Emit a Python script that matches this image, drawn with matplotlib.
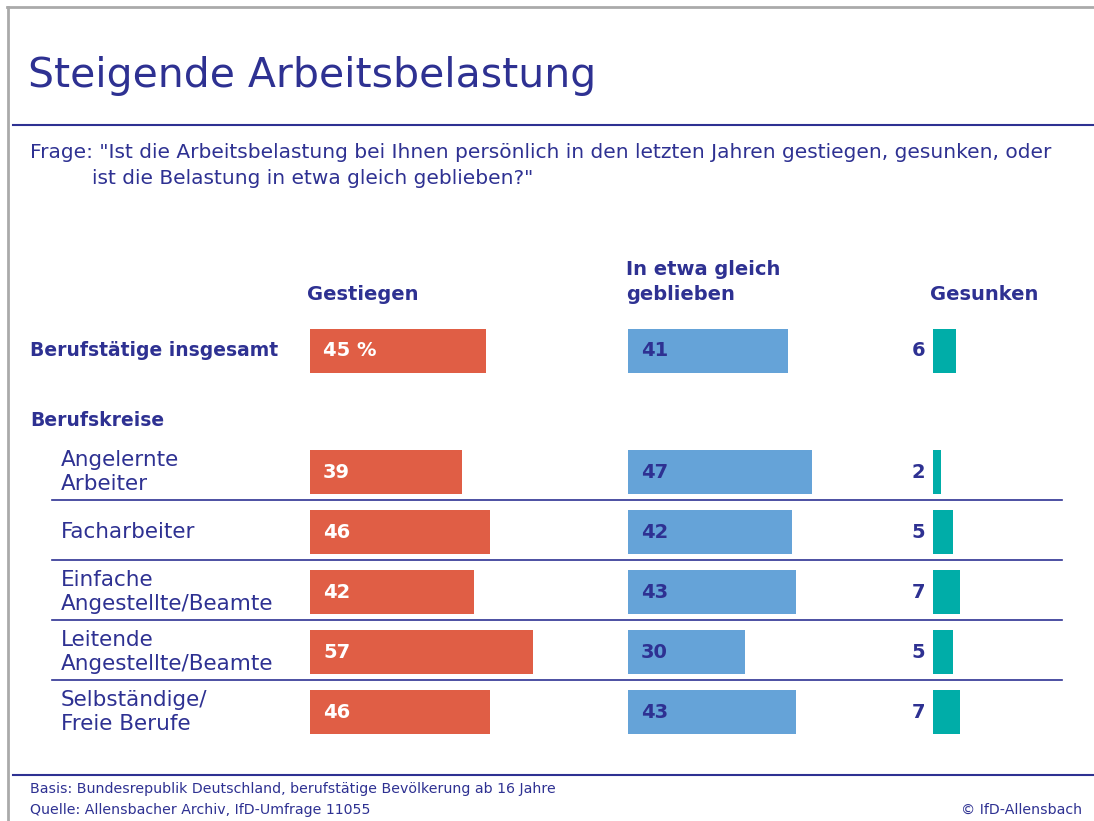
import matplotlib.pyplot as plt
from matplotlib.lines import Line2D

# data
categories = ['Berufstätige insgesamt', 'Angelernte\nArbeiter', 'Facharbeiter',
              'Einfache\nAngestellte/Beamte', 'Leitende\nAngestellte/Beamte',
              'Selbständige/\nFreie Berufe']
gestiegen = [45, 39, 46, 42, 57, 46]
gleich = [41, 47, 42, 43, 30, 43]
gesunken = [6, 2, 5, 7, 5, 7]
col_headers = ['Gestiegen', 'In etwa gleich\ngeblieben', 'Gesunken']

navy = '#2E3192'
c_up = '#E05E45'
c_same = '#65A3D8'
c_down = '#00ADA8'

plt.rcParams['font.family'] = ['DejaVu Sans']

fig = plt.figure(figsize=(10.94, 8.21), dpi=100)
ax = fig.add_axes([0, 0, 1, 1])
ax.set_xlim(0, 1094)
ax.set_ylim(821, 0)
ax.axis('off')

# frame lines
ax.add_line(Line2D([7, 1094], [7.5, 7.5], color='#AAAAAA', lw=2))
ax.add_line(Line2D([7.5, 7.5], [7, 821], color='#AAAAAA', lw=2))
ax.add_line(Line2D([13, 1094], [125, 125], color=navy, lw=1.5))
ax.add_line(Line2D([13, 1094], [775, 775], color=navy, lw=1.5))

ax.text(28, 76, 'Steigende Arbeitsbelastung', fontsize=29.5, color=navy,
        va='center', ha='left')
ax.text(30, 153, 'Frage: "Ist die Arbeitsbelastung bei Ihnen persönlich in den letzten Jahren gestiegen, gesunken, oder',
        fontsize=14.5, color=navy, va='center')
ax.text(92, 178, 'ist die Belastung in etwa gleich geblieben?"',
        fontsize=14.5, color=navy, va='center')

# column headers
ax.text(307, 294, col_headers[0], fontsize=14, fontweight='bold', color=navy, va='center')
ax.text(626, 282, col_headers[1], fontsize=14, fontweight='bold', color=navy, va='center',
        linespacing=1.4)
ax.text(930, 294, col_headers[2], fontsize=14, fontweight='bold', color=navy, va='center')

ys = [351, 472, 532, 592, 652, 712]
scale = 3.91
x_up, x_same, x_down = 310, 628, 933
bh = 44

ax.barh(ys, [v * scale for v in gestiegen], left=x_up, height=bh, color=c_up)
ax.barh(ys, [v * scale for v in gleich], left=x_same, height=bh, color=c_same)
ax.barh(ys, [v * scale for v in gesunken], left=x_down, height=bh, color=c_down)

for i, y in enumerate(ys):
    lab_up = f'{gestiegen[i]} %' if i == 0 else str(gestiegen[i])
    ax.text(x_up + 13, y, lab_up, fontsize=14, fontweight='bold', color='white', va='center')
    ax.text(x_same + 13, y, str(gleich[i]), fontsize=14, fontweight='bold', color=navy, va='center')
    ax.text(x_down - 8, y, str(gesunken[i]), fontsize=14, fontweight='bold', color=navy,
            va='center', ha='right')
    if i == 0:
        ax.text(30, y, categories[i], fontsize=13.5, fontweight='bold', color=navy, va='center')
    else:
        ax.text(61, y, categories[i], fontsize=15.5, color=navy, va='center', linespacing=1.2)

ax.text(30, 420, 'Berufskreise', fontsize=13.5, fontweight='bold', color=navy, va='center')

for y in [500, 560, 620, 680]:
    ax.add_line(Line2D([52, 1062], [y, y], color=navy, lw=1.2))

ax.text(30, 789, 'Basis: Bundesrepublik Deutschland, berufstätige Bevölkerung ab 16 Jahre',
        fontsize=10.2, color=navy, va='center')
ax.text(30, 810, 'Quelle: Allensbacher Archiv, IfD-Umfrage 11055', fontsize=10.2, color=navy, va='center')
ax.text(1082, 810, '© IfD-Allensbach', fontsize=10.2, color=navy, va='center', ha='right')

fig.savefig('out.png', dpi=100)
